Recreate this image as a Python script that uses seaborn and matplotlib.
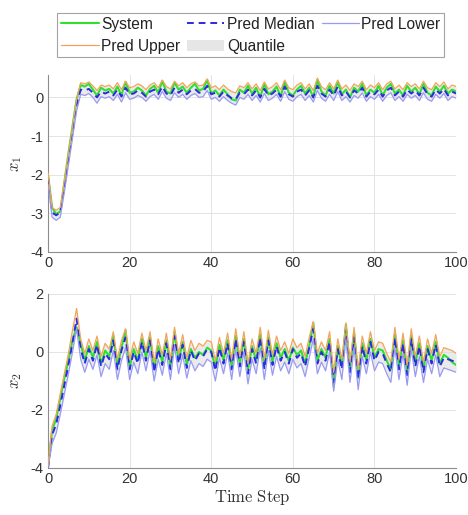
import numpy as np
import pandas as pd
import matplotlib
matplotlib.use("Agg")
import matplotlib.pyplot as plt
import seaborn as sns
from matplotlib.patches import Patch
from matplotlib.lines import Line2D

steps = list(range(101))

x1_system = [-2.00, -2.85, -3.02, -2.95, -2.20, -1.45, -0.75, -0.05, 0.32, 0.28,
             0.35, 0.20, 0.05, 0.25, 0.18, 0.22, 0.10, 0.28, 0.05, 0.40,
             0.12, 0.15, 0.25, 0.18, 0.05, 0.22, 0.30, 0.12, 0.42, 0.15,
             0.10, 0.38, 0.20, 0.28, 0.12, 0.25, 0.35, 0.18, 0.22, 0.45,
             0.10, 0.18, 0.05, 0.20, 0.08, -0.05, -0.08, 0.20, 0.12, 0.30,
             0.10, 0.25, 0.00, 0.35, 0.08, 0.15, 0.28, 0.02, 0.40, 0.12,
             0.05, 0.20, 0.30, 0.10, 0.25, 0.00, 0.45, 0.15, 0.05, 0.30,
             0.10, 0.40, 0.08, 0.20, 0.00, 0.25, 0.15, 0.35, 0.05, 0.20,
             0.12, 0.30, 0.05, 0.25, 0.35, 0.10, 0.20, 0.05, 0.30, 0.15,
             0.25, 0.08, 0.35, 0.12, 0.05, 0.28, 0.15, 0.30, 0.10, 0.20, 0.15]
x1_median = [-2.10, -2.98, -3.05, -2.98, -2.30, -1.60, -0.90, -0.20, 0.20, 0.18,
             0.22, 0.12, 0.00, 0.15, 0.10, 0.15, 0.05, 0.20, 0.02, 0.25,
             0.08, 0.10, 0.18, 0.12, 0.02, 0.15, 0.20, 0.08, 0.28, 0.10,
             0.05, 0.25, 0.12, 0.20, 0.08, 0.18, 0.22, 0.12, 0.15, 0.30,
             0.08, 0.12, 0.02, 0.15, 0.05, -0.02, -0.05, 0.12, 0.08, 0.20,
             0.05, 0.18, 0.00, 0.22, 0.05, 0.10, 0.20, 0.02, 0.28, 0.08,
             0.02, 0.15, 0.20, 0.05, 0.18, 0.00, 0.30, 0.10, 0.02, 0.20,
             0.05, 0.28, 0.05, 0.15, 0.00, 0.18, 0.10, 0.25, 0.02, 0.15,
             0.08, 0.20, 0.02, 0.18, 0.25, 0.05, 0.15, 0.02, 0.20, 0.10,
             0.18, 0.05, 0.25, 0.08, 0.02, 0.20, 0.10, 0.22, 0.05, 0.15, 0.10]
x1_upper = [-1.95, -2.85, -2.92, -2.85, -2.15, -1.45, -0.75, -0.05, 0.38, 0.35,
            0.40, 0.30, 0.18, 0.32, 0.28, 0.32, 0.22, 0.38, 0.20, 0.42,
            0.25, 0.28, 0.35, 0.30, 0.20, 0.32, 0.38, 0.25, 0.45, 0.28,
            0.22, 0.42, 0.30, 0.38, 0.25, 0.35, 0.40, 0.30, 0.32, 0.48,
            0.25, 0.30, 0.20, 0.32, 0.22, 0.15, 0.12, 0.30, 0.25, 0.38,
            0.22, 0.35, 0.18, 0.40, 0.22, 0.28, 0.38, 0.20, 0.45, 0.25,
            0.20, 0.32, 0.38, 0.22, 0.35, 0.18, 0.50, 0.28, 0.20, 0.38,
            0.22, 0.45, 0.22, 0.32, 0.18, 0.35, 0.28, 0.42, 0.20, 0.32,
            0.25, 0.38, 0.20, 0.35, 0.42, 0.22, 0.32, 0.20, 0.38, 0.28,
            0.35, 0.22, 0.42, 0.25, 0.20, 0.38, 0.28, 0.40, 0.22, 0.32, 0.28]
x1_lower = [-2.25, -3.10, -3.18, -3.10, -2.45, -1.75, -1.05, -0.35, 0.08, 0.05,
            0.10, 0.00, -0.15, 0.02, -0.02, 0.02, -0.08, 0.08, -0.12, 0.12,
            -0.05, -0.02, 0.05, 0.00, -0.10, 0.02, 0.08, -0.05, 0.15, -0.02,
            -0.08, 0.12, 0.00, 0.08, -0.05, 0.05, 0.10, 0.00, 0.02, 0.18,
            -0.05, 0.00, -0.10, 0.02, -0.08, -0.15, -0.20, 0.00, -0.05, 0.08,
            -0.08, 0.05, -0.12, 0.10, -0.08, -0.02, 0.08, -0.10, 0.15, -0.05,
            -0.10, 0.02, 0.08, -0.08, 0.05, -0.12, 0.18, -0.02, -0.10, 0.08,
            -0.08, 0.15, -0.08, 0.02, -0.12, 0.05, -0.02, 0.12, -0.10, 0.02,
            -0.05, 0.08, -0.10, 0.05, 0.12, -0.08, 0.02, -0.10, 0.08, -0.02,
            0.05, -0.08, 0.12, -0.05, -0.10, 0.08, -0.02, 0.10, -0.08, 0.02, -0.02]

x2_system = [-3.95, -2.70, -2.30, -1.60, -0.90, -0.30, 0.40, 0.85, 0.30, -0.30,
             0.20, -0.20, 0.35, -0.40, 0.05, -0.15, 0.55, -0.50, 0.15, 0.75,
             -0.55, 0.10, -0.30, 0.45, -0.20, 0.50, -0.60, 0.20, -0.35, 0.40,
             -0.50, 0.70, -0.30, 0.35, -0.45, 0.10, -0.20, 0.00, -0.10, 0.15,
             0.05, -0.55, 0.25, -0.30, 0.40, -0.50, 0.55, -0.40, 0.45, -0.60,
             0.20, -0.30, 0.60, -0.50, 0.50, -0.35, 0.30, -0.20, 0.10, -0.30,
             0.15, -0.10, 0.05, -0.40, 0.20, 1.00, -0.30, 0.10, -0.20, 0.45,
             -1.20, 0.20, -0.50, 0.95, -0.60, 0.65, -0.90, 0.30, -0.30, 0.45,
             -0.20, 0.10, 0.05, -0.30, -0.60, 0.60, -0.50, 0.40, -0.70, 0.55,
             -0.40, 0.30, -0.60, 0.20, -0.30, 0.35, -0.40, -0.10, -0.20, -0.35, -0.45]
x2_median = [-4.00, -2.85, -2.50, -1.85, -1.15, -0.45, 0.30, 1.15, 0.10, -0.40,
             0.10, -0.30, 0.25, -0.50, -0.05, -0.25, 0.40, -0.60, 0.05, 0.50,
             -0.60, 0.00, -0.40, 0.35, -0.30, 0.40, -0.70, 0.10, -0.45, 0.30,
             -0.60, 0.55, -0.40, 0.25, -0.55, 0.05, -0.30, -0.05, -0.15, 0.10,
             0.00, -0.65, 0.15, -0.40, 0.30, -0.60, 0.45, -0.50, 0.35, -0.75,
             0.10, -0.40, 0.50, -0.60, 0.40, -0.45, 0.20, -0.30, 0.00, -0.40,
             0.10, -0.20, -0.05, -0.50, 0.15, 0.80, -0.40, 0.00, -0.30, 0.35,
             -1.05, 0.10, -0.60, 0.80, -0.70, 0.50, -0.95, 0.20, -0.40, 0.35,
             -0.30, 0.00, -0.05, -0.40, -0.70, 0.50, -0.60, 0.30, -0.80, 0.45,
             -0.50, 0.20, -0.70, 0.10, -0.40, 0.25, -0.50, -0.20, -0.25, -0.30, -0.35]
x2_upper = [-3.90, -2.55, -2.15, -1.45, -0.75, -0.05, 0.75, 1.50, 0.45, -0.05,
            0.45, 0.05, 0.55, -0.15, 0.30, 0.10, 0.70, -0.25, 0.40, 0.80,
            -0.25, 0.35, -0.05, 0.65, 0.05, 0.70, -0.35, 0.45, -0.10, 0.65,
            -0.25, 0.85, -0.05, 0.60, -0.20, 0.40, 0.05, 0.30, 0.20, 0.40,
            0.35, -0.30, 0.50, -0.05, 0.65, -0.25, 0.80, -0.15, 0.70, -0.40,
            0.45, -0.05, 0.85, -0.25, 0.75, -0.10, 0.55, 0.05, 0.35, -0.05,
            0.45, 0.15, 0.30, -0.15, 0.50, 1.05, -0.05, 0.35, 0.05, 0.70,
            -0.70, 0.45, -0.25, 1.00, -0.35, 0.85, -0.60, 0.55, -0.05, 0.70,
            0.05, 0.35, 0.30, -0.05, -0.35, 0.85, -0.25, 0.65, -0.45, 0.80,
            -0.15, 0.55, -0.35, 0.45, -0.05, 0.60, -0.15, 0.15, 0.10, 0.05, -0.05]
x2_lower = [-4.00, -3.15, -2.80, -2.15, -1.45, -0.75, 0.00, 0.80, -0.25, -0.70,
            -0.25, -0.60, -0.10, -0.85, -0.40, -0.60, 0.05, -0.95, -0.30, 0.15,
            -0.95, -0.35, -0.75, 0.00, -0.65, 0.05, -1.00, -0.25, -0.80, -0.05,
            -0.95, 0.20, -0.75, -0.10, -0.90, -0.30, -0.65, -0.40, -0.50, -0.25,
            -0.35, -1.00, -0.20, -0.75, -0.05, -0.95, 0.10, -0.85, 0.00, -1.10,
            -0.25, -0.75, 0.15, -0.95, 0.05, -0.80, -0.15, -0.65, -0.35, -0.75,
            -0.25, -0.55, -0.40, -0.85, -0.20, 0.45, -0.75, -0.35, -0.65, 0.00,
            -1.35, -0.25, -0.95, 0.45, -1.05, 0.15, -1.30, -0.15, -0.75, 0.00,
            -0.65, -0.35, -0.40, -0.75, -1.05, 0.15, -0.95, -0.05, -1.15, 0.10,
            -0.85, -0.15, -1.05, -0.25, -0.75, -0.10, -0.85, -0.55, -0.60, -0.65, -0.70]

series_names = ["System", "Pred Median", "Pred Lower", "Pred Upper", "Quantile"]
x_ticks = [0, 20, 40, 60, 80, 100]
y1_ticks = [-4, -3, -2, -1, 0]
y2_ticks = [-4, -2, 0, 2]

sns.set_style("white")
plt.rcParams["font.family"] = ["Liberation Sans", "DejaVu Sans"]
plt.rcParams["mathtext.fontset"] = "cm"

C_SYS = "#2fe02f"
C_MED = "#2a2ae6"
C_LOW = "#9a9af5"
C_UP = "#f2a45a"
C_Q = "#d9d9d9"
C_AX = "#8c8c8c"

fig = plt.figure(figsize=(4.68, 5.15), dpi=100)
ax1 = fig.add_axes([0.1026, 0.5107, 0.872, 0.3437])
ax2 = fig.add_axes([0.1026, 0.0913, 0.872, 0.3379])

panels = [
    (ax1, x1_system, x1_median, x1_lower, x1_upper, (-4, 0.58), y1_ticks, r"$x_1$"),
    (ax2, x2_system, x2_median, x2_lower, x2_upper, (-4, 2), y2_ticks, r"$x_2$"),
]

for ax, sysv, med, low, up, ylim, yt, ylab in panels:
    df = pd.DataFrame({"t": steps, "sys": sysv, "med": med, "low": low, "up": up})
    ax.fill_between(df["t"], df["low"], df["up"], color=C_Q, alpha=0.55, lw=0, zorder=1)
    sns.lineplot(data=df, x="t", y="sys", ax=ax, color=C_SYS, lw=1.5, zorder=3)
    sns.lineplot(data=df, x="t", y="med", ax=ax, color=C_MED, lw=1.4, zorder=4,
                 linestyle=(0, (3.5, 2.5)))
    sns.lineplot(data=df, x="t", y="low", ax=ax, color=C_LOW, lw=0.9, zorder=5)
    sns.lineplot(data=df, x="t", y="up", ax=ax, color=C_UP, lw=0.9, zorder=6)
    ax.set_xlim(0, 100)
    ax.set_ylim(*ylim)
    ax.set_xticks(x_ticks)
    ax.set_yticks(yt)
    ax.set_xticklabels([str(v) for v in x_ticks])
    ax.set_yticklabels([str(v) for v in yt])
    ax.grid(True, color="#e4e4e4", lw=0.7, zorder=0)
    ax.set_axisbelow(True)
    for s in ["top", "right"]:
        ax.spines[s].set_visible(False)
    for s in ["left", "bottom"]:
        ax.spines[s].set_color(C_AX)
        ax.spines[s].set_linewidth(0.8)
    ax.tick_params(direction="in", length=3.5, width=0.7, color=C_AX,
                   labelsize=10.5, labelcolor="#333333", pad=3)
    ax.set_ylabel(ylab, fontsize=12, color="#333333", labelpad=5)
    ax.set_xlabel("")

ax2.set_xlabel(r"$\mathrm{Time\ Step}$", fontsize=12, color="#333333", labelpad=1)

handles = [
    Line2D([], [], color=C_SYS, lw=1.5),
    Line2D([], [], color=C_UP, lw=0.9),
    Line2D([], [], color=C_MED, lw=1.4, linestyle=(0, (3.5, 2.5))),
    Patch(facecolor="#e6e6e6", edgecolor="none"),
    Line2D([], [], color=C_LOW, lw=0.9),
]
labels = ["System", "Pred Upper", "Pred Median", "Quantile", "Pred Lower"]
leg = fig.legend(handles, labels, loc="center", bbox_to_anchor=(0.536, 0.932), ncol=3,
                 fontsize=11.2, frameon=True, fancybox=False, handlelength=2.4,
                 handletextpad=0.15, columnspacing=0.45, labelspacing=0.45,
                 borderpad=0.25, borderaxespad=0)
leg.get_frame().set_edgecolor("#8c8c8c")
leg.get_frame().set_linewidth(0.8)
for txt in leg.get_texts():
    txt.set_color("#222222")

fig.savefig("out.png", dpi=100)
